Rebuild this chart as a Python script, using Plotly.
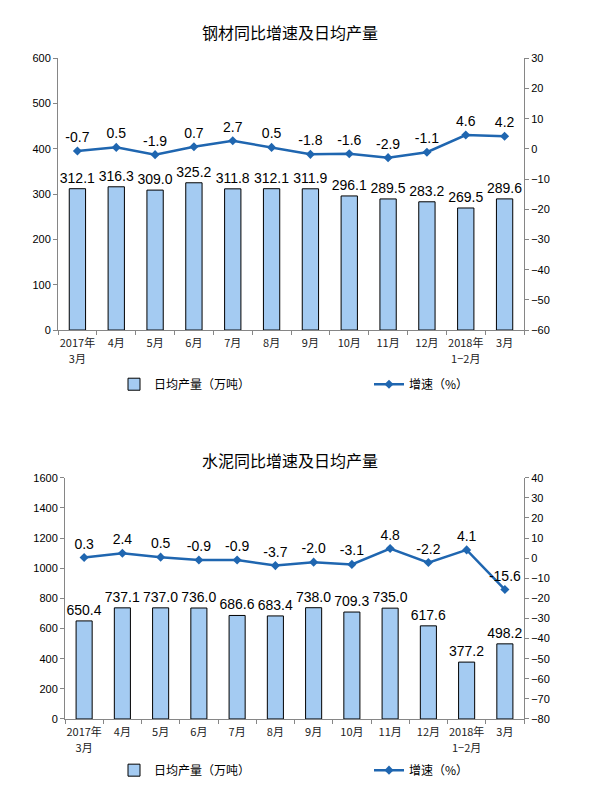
import plotly.graph_objects as go

# tick labels: first line / second line of each category label
cat_line1 = ["2017年", "4月", "5月", "6月", "7月", "8月", "9月", "10月",
             "11月", "12月", "2018年", "3月"]
cat_line2 = ["3月", "", "", "", "", "", "", "", "", "", "1−2月", ""]

steel_output = [312.1, 316.3, 309.0, 325.2, 311.8, 312.1, 311.9, 296.1, 289.5, 283.2, 269.5, 289.6]
steel_growth = [-0.7, 0.5, -1.9, 0.7, 2.7, 0.5, -1.8, -1.6, -2.9, -1.1, 4.6, 4.2]

cement_output = [650.4, 737.1, 737.0, 736.0, 686.6, 683.4, 738.0, 709.3, 735.0, 617.6, 377.2, 498.2]
cement_growth = [0.3, 2.4, 0.5, -0.9, -0.9, -3.7, -2.0, -3.1, 4.8, -2.2, 4.1, -15.6]

title_top = "钢材同比增速及日均产量"
title_bottom = "水泥同比增速及日均产量"
bar_name = "日均产量（万吨）"
line_name = "增速（%）"

PAGE_MARGIN = 8           # default body margin of the html page
W, H = 600 - 2 * PAGE_MARGIN, 795 - 2 * PAGE_MARGIN
BAR_FILL = "#A4CBF2"
LINE_COL = "#1F66B0"
AXIS_COL = "#868686"
NUM_FONT = "Liberation Sans Narrow, Liberation Sans, Arial"
CJK_FONT = "Noto Sans CJK SC"

def px_x(p):
    return (p - PAGE_MARGIN) / W

def px_y(p):
    return 1 - (p - PAGE_MARGIN) / H

idx = list(range(len(cat_line1)))
fig = go.Figure()

def add_pair(output, growth, xa, ya_bar, ya_line, leg_bar, leg_line, xa_second):
    fig.add_trace(go.Bar(
        x=cat_line1, y=output, name=bar_name, xaxis=xa, yaxis=ya_bar,
        marker=dict(color=BAR_FILL, line=dict(color="black", width=1)),
        width=0.42, text=[f"{v:.1f}" for v in output], textposition="outside",
        constraintext="none",
        textfont=dict(family=NUM_FONT, size=14, color="black"), cliponaxis=False,
        legend=leg_bar))
    fig.add_trace(go.Scatter(
        x=cat_line1, y=growth, name=line_name, xaxis=xa, yaxis=ya_line,
        mode="lines+markers+text", line=dict(color=LINE_COL, width=2.5),
        marker=dict(symbol="diamond", size=7, color=LINE_COL),
        text=[f"{v:.1f}" for v in growth], textposition="top center",
        textfont=dict(family=NUM_FONT, size=14, color="black"), cliponaxis=False,
        legend=leg_line))
    # empty helper trace so the second-line label axis is drawn
    fig.add_trace(go.Scatter(
        x=idx, y=[None] * len(idx), xaxis=xa_second, yaxis=ya_bar, mode="markers",
        showlegend=False, hoverinfo="skip"))

add_pair(steel_output, steel_growth, "x", "y", "y2", "legend", "legend2", "x3")
add_pair(cement_output, cement_growth, "x2", "y3", "y4", "legend3", "legend4", "x4")

tickfont_x = dict(family=CJK_FONT, size=11, color="#222")
xcommon = dict(type="category", showline=True, linecolor=AXIS_COL, linewidth=1,
               ticks="outside", tickson="boundaries", ticklen=4, tickcolor=AXIS_COL,
               showgrid=False, zeroline=False, fixedrange=True, tickangle=0,
               ticklabelstandoff=3, tickfont=tickfont_x)
xsecond = dict(type="linear", range=[-0.5, len(idx) - 0.5], tickmode="array",
               tickvals=idx, ticktext=cat_line2, showline=False, showgrid=False,
               zeroline=False, ticks="outside", ticklen=4, tickcolor="rgba(0,0,0,0)",
               ticklabelstandoff=15, tickangle=0, side="bottom", tickfont=tickfont_x,
               fixedrange=True)
ycommon = dict(showline=True, linecolor=AXIS_COL, linewidth=1, ticks="outside",
               ticklen=4, tickcolor=AXIS_COL, showgrid=False, zeroline=False,
               tickfont=dict(family=NUM_FONT, size=11, color="black"))

def leg(xp, yp):
    return dict(orientation="h", x=px_x(xp), y=px_y(yp), xanchor="left", yanchor="middle",
                bgcolor="rgba(0,0,0,0)", font=dict(family=CJK_FONT, size=12, color="black"),
                itemclick=False, itemdoubleclick=False)

fig.update_layout(
    width=W, height=H, margin=dict(l=0, r=0, t=0, b=0),
    paper_bgcolor="white", plot_bgcolor="white",
    showlegend=True,
    xaxis=dict(domain=[px_x(58), px_x(524)], anchor="y", range=[-0.5, 11.5], **xcommon),
    yaxis=dict(domain=[px_y(329), px_y(53)], anchor="x", range=[0, 600], dtick=100, **ycommon),
    yaxis2=dict(overlaying="y", side="right", anchor="x", range=[-60, 30], dtick=10, **ycommon),
    xaxis3=dict(overlaying="x", anchor="y", **xsecond),
    xaxis2=dict(domain=[px_x(65), px_x(524)], anchor="y3", range=[-0.5, 11.5], **xcommon),
    yaxis3=dict(domain=[px_y(724), px_y(479)], anchor="x2", range=[0, 1600], dtick=200, **ycommon),
    yaxis4=dict(overlaying="y3", side="right", anchor="x2", range=[-80, 40], dtick=10, **ycommon),
    xaxis4=dict(overlaying="x2", anchor="y3", **xsecond),
    legend=leg(114, 384),
    legend2=leg(369, 384),
    legend3=leg(114, 776),
    legend4=leg(369, 776),
    annotations=[
        dict(text=title_top, x=px_x(290), y=px_y(26), xref="paper", yref="paper",
             xanchor="center", yanchor="middle",
             showarrow=False, font=dict(family=CJK_FONT, size=16, color="black")),
        dict(text=title_bottom, x=px_x(290), y=px_y(461), xref="paper", yref="paper",
             xanchor="center", yanchor="middle",
             showarrow=False, font=dict(family=CJK_FONT, size=16, color="black")),
    ],
)

fig.write_html("out.html")
